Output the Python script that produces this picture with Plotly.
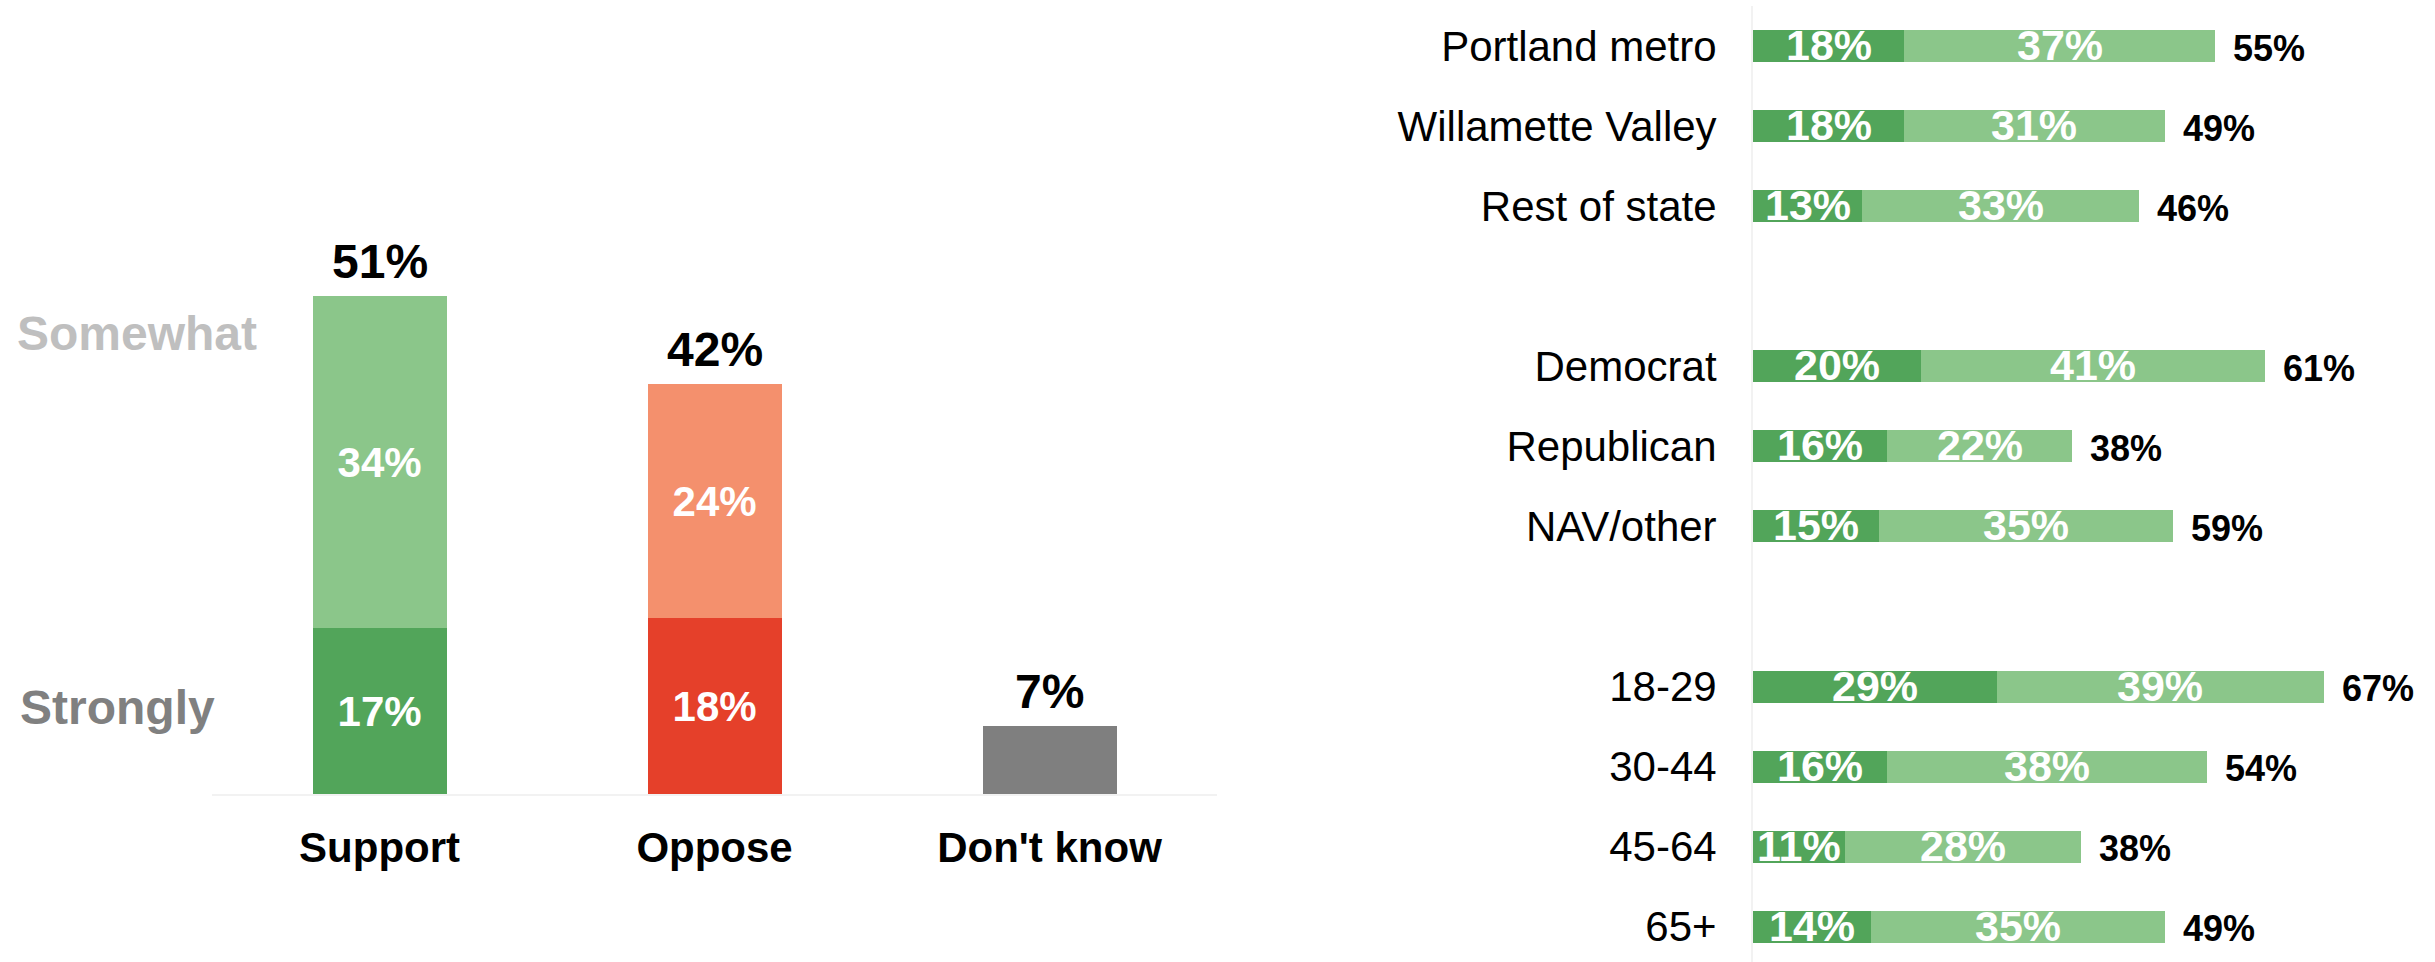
import plotly.graph_objects as go

# ---- données ----
total_cats = ["Support", "Oppose", "Don't know"]
total_strong = [17, 18, 7]
total_somewhat = [34, 24, 0]
total_labels = ["51%", "42%", "7%"]

group_cats = ["Portland metro", "Willamette Valley", "Rest of state", " ",
              "Democrat", "Republican", "NAV/other", "  ",
              "18-29", "30-44", "45-64", "65+"]
group_strong = [18, 18, 13, None, 20, 16, 15, None, 29, 16, 11, 14]
group_somewhat = [37, 31, 33, None, 41, 22, 35, None, 39, 38, 28, 35]
group_labels = ["55%", "49%", "46%", "", "61%", "38%", "59%", "", "67%", "54%", "38%", "49%"]

FONT = "Liberation Sans, Arial, sans-serif"
DK_GREEN = "#52A55A"
LT_GREEN = "#8BC68A"
RED = "#E5402A"
SALMON = "#F4906D"
GRAY = "#7F7F7F"
AXIS_GRAY = "#F2F2F2"


def pct(v):
    return "" if v in (None, 0) else f"{v}%"


fig = go.Figure()

# ---- panneau gauche: total ----
fig.add_trace(go.Bar(
    x=total_cats, y=total_strong,
    marker=dict(color=[DK_GREEN, RED, GRAY], line=dict(width=0)),
    text=[pct(v) for v in total_strong[:2]] + [""],
    textposition="inside", insidetextanchor="middle", textangle=0,
    textfont=dict(family=FONT, size=42, color="white", weight="bold"),
    xaxis="x", yaxis="y",
))
fig.add_trace(go.Bar(
    x=total_cats, y=total_somewhat,
    marker=dict(color=[LT_GREEN, SALMON, GRAY], line=dict(width=0)),
    text=[pct(v) for v in total_somewhat],
    textposition="inside", insidetextanchor="middle", textangle=0,
    textfont=dict(family=FONT, size=42, color="white", weight="bold"),
    xaxis="x", yaxis="y",
))

for cat, s, w, lab in zip(total_cats, total_strong, total_somewhat, total_labels):
    fig.add_annotation(
        x=cat, y=s + w, xref="x", yref="y", text=lab, showarrow=False,
        yanchor="bottom", yshift=6,
        font=dict(family=FONT, size=48, color="black", weight="bold"),
    )

fig.add_annotation(x=15 / 2435, y=1 - 333 / 962, xref="paper", yref="paper",
                   text="Somewhat", showarrow=False, xanchor="left", yanchor="middle",
                   font=dict(family=FONT, size=48, color="#BFBFBF", weight="bold"))
fig.add_annotation(x=18 / 2435, y=1 - 707 / 962, xref="paper", yref="paper",
                   text="Strongly", showarrow=False, xanchor="left", yanchor="middle",
                   font=dict(family=FONT, size=48, color="#808080", weight="bold"))

# ---- panneau droit: par groupe ----
fig.add_trace(go.Bar(
    y=group_cats, x=group_strong, orientation="h",
    marker=dict(color=DK_GREEN, line=dict(width=0)),
    xaxis="x2", yaxis="y2",
))
fig.add_trace(go.Bar(
    y=group_cats, x=group_somewhat, orientation="h",
    marker=dict(color=LT_GREEN, line=dict(width=0)),
    xaxis="x2", yaxis="y2",
))

# étiquettes des segments (un peu plus bas, comme l'original) + totaux
inner_font = dict(family=FONT, size=43, color="white", weight="bold")
for cat, s, w, lab in zip(group_cats, group_strong, group_somewhat, group_labels):
    if not lab:
        continue
    fig.add_annotation(x=s / 2, y=cat, xref="x2", yref="y2", text=pct(s),
                       showarrow=False, yshift=1, font=inner_font)
    fig.add_annotation(x=s + w / 2, y=cat, xref="x2", yref="y2", text=pct(w),
                       showarrow=False, yshift=1, font=inner_font)
    fig.add_annotation(
        x=s + w, y=cat, xref="x2", yref="y2", text=lab, showarrow=False,
        xanchor="left", xshift=16, yshift=-2,
        font=dict(family=FONT, size=36, color="black", weight="bold"),
    )

fig.update_layout(
    width=2435, height=962,
    margin=dict(l=0, r=0, t=0, b=0),
    barmode="stack", bargap=0.6,
    showlegend=False,
    plot_bgcolor="white", paper_bgcolor="white",
    font=dict(family=FONT, color="black"),
    xaxis=dict(
        domain=[0.0871, 0.4998], range=[-0.5, 2.5], anchor="y",
        showline=True, linecolor=AXIS_GRAY, linewidth=2,
        ticks="", showgrid=False, zeroline=False, ticklabelstandoff=16,
        tickfont=dict(family=FONT, size=42, color="black", weight="bold"),
    ),
    yaxis=dict(
        domain=[1 - 794 / 962, 1], range=[0, 81.35], anchor="x",
        visible=False, showgrid=False, zeroline=False,
    ),
    xaxis2=dict(
        domain=[1753 / 2435, 2425 / 2435], range=[0, 80], anchor="y2",
        visible=False, showgrid=False, zeroline=False,
    ),
    yaxis2=dict(
        domain=[0, 1 - 6 / 962], range=[11.44, -0.5], anchor="x2",
        type="category", categoryorder="array", categoryarray=group_cats,
        showline=True, linecolor=AXIS_GRAY, linewidth=2,
        ticks="", showgrid=False, zeroline=False, ticklabelstandoff=26,
        tickfont=dict(family=FONT, size=42, color="black"),
    ),
)

# pas de marge autour du graphique dans la page, pas de barre d'outils
fig.write_html("out.html", config={"displayModeBar": False},
               post_script="document.body.style.margin = '0';")
